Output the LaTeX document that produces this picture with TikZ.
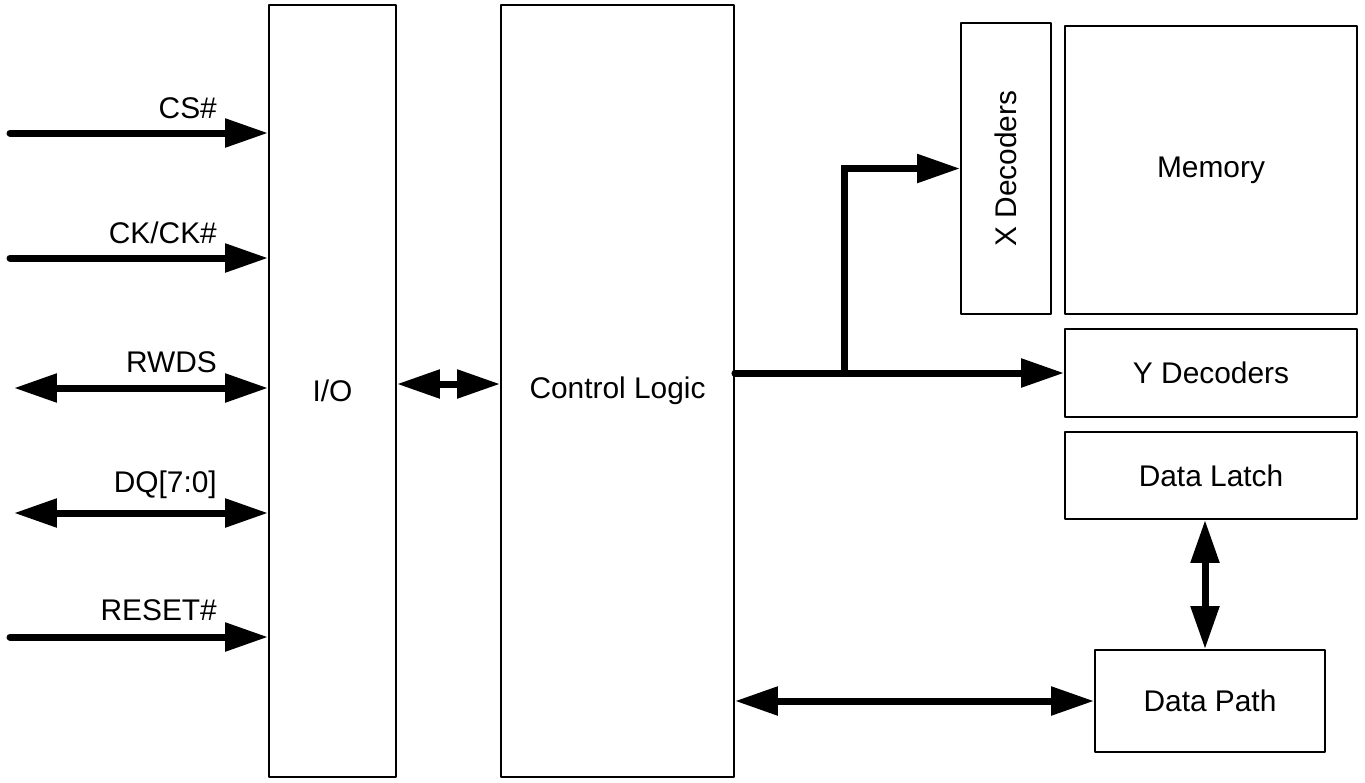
\documentclass[tikz,border=0pt]{standalone}
\usepackage{fontspec}
\setmainfont{Liberation Sans}
\usetikzlibrary{arrows.meta}
\begin{document}
\begin{tikzpicture}[x=.02cm,y=-.02cm,font=\fontsize{17}{20}\selectfont,line join=round,line cap=round,
	blk/.style={draw,line width=1.1pt,inner sep=0pt},
	bus/.style={line width=.14cm},
	>={Triangle[length=.86cm,width=.55cm]}]
	\useasboundingbox (0,0) rectangle (1365,782);
	% blocks
	\node[blk,minimum width=2.54cm,minimum height=15.44cm] (io) at (332.5,391) {I/O};
	\node[blk,minimum width=4.66cm,minimum height=15.44cm] (ctrl) at (617.5,391) {Control Logic};
	\node[blk,minimum width=1.8cm,minimum height=5.82cm] (xdec) at (1006,168.5) {\rotatebox{90}{X Decoders}};
	\node[blk,minimum width=5.84cm,minimum height=5.76cm] (mem) at (1211,170) {Memory};
	\node[blk,minimum width=5.84cm,minimum height=1.76cm] (ydec) at (1211,373) {Y Decoders};
	\node[blk,minimum width=5.84cm,minimum height=1.74cm] (latch) at (1211,475.5) {Data Latch};
	\node[blk,minimum width=4.6cm,minimum height=2.04cm] (path) at (1210,701) {Data Path};
	% pins
	\foreach \n/\y/\x/\a/\d/\txt in {cs/133/10/->/15/CS\#,ck/258/10/->/15/{CK/CK\#},rwds/388/14/<->/16/RWDS,dq/513/14/<->/21/{DQ[7:0]},rst/637/10/->/17/RESET\#}
	{\coordinate (\n) at (\x,\y);
	\draw[bus,\a] (\n) -- (\n -| io.west);
	\node[anchor=base east] (\n-lbl) at (223,\y-\d) {\txt};}
	% buses
	\coordinate (j) at (844,373);
	\coordinate (v) at (1205,0);
	\draw[bus,<->] (io.east |- 0,384) -- (ctrl.west |- 0,384);
	\draw[bus,->] (ctrl.east |- j) -- (ydec.west);
	\draw[bus,->,line join=miter] (j) |- (xdec.west);
	\draw[bus,<->] (latch.south -| v) -- (path.north -| v);
	\draw[bus,<->] (path.west -| ctrl.east) -- (path.west);
\end{tikzpicture}
\end{document}
